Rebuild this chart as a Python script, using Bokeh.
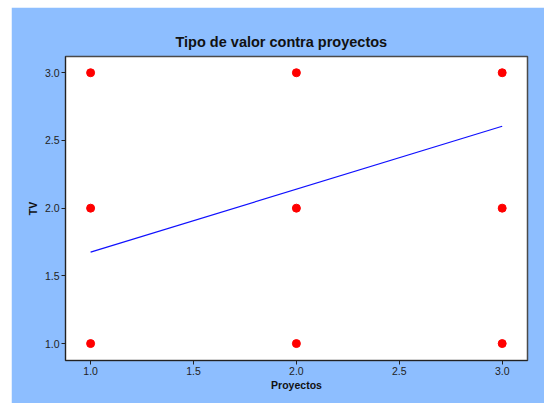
from bokeh.plotting import figure
from bokeh.embed import file_html
from bokeh.resources import INLINE
from bokeh.models import FixedTicker, NumeralTickFormatter, Range1d

# Data
proyectos = [1, 1, 1, 2, 2, 2, 3, 3, 3]
tv = [1, 2, 3, 1, 2, 3, 1, 2, 3]
fit_x = [1.0, 3.0]
fit_y = [1.675, 2.605]
ticks = [1.0, 1.5, 2.0, 2.5, 3.0]
title_text = "Tipo de valor contra proyectos"
x_label = "Proyectos"
y_label = "TV"

BLUE_BG = "#8DBEFF"
FONT = "Liberation Sans"

p = figure(width=533, height=396, output_backend="svg", toolbar_location=None,
           x_range=Range1d(0.878, 3.123), y_range=Range1d(0.875, 3.12),
           min_border_left=54, min_border_right=17, min_border_top=49,
           min_border_bottom=43)
p.margin = (7, 0, 0, 11)

p.title.text = title_text
p.title.align = "left"
p.title.offset = 110
p.title.standoff = 14
p.title.text_font = FONT
p.title.text_font_size = "14.5px"
p.title.text_font_style = "bold"
p.title.text_color = "#111111"

p.border_fill_color = BLUE_BG
p.background_fill_color = "white"
p.outline_line_color = "#4a4a4a"
p.outline_line_width = 1.5
p.xgrid.visible = False
p.ygrid.visible = False

for ax in (p.xaxis[0], p.yaxis[0]):
    ax.ticker = FixedTicker(ticks=ticks)
    ax.formatter = NumeralTickFormatter(format="0.0")
    ax.major_label_text_font = FONT
    ax.major_label_text_font_size = "10.5px"
    ax.major_label_text_color = "#222222"
    ax.axis_label_text_font = FONT
    ax.axis_label_text_font_size = "10.5px"
    ax.axis_label_text_font_style = "bold"
    ax.axis_label_text_color = "#111111"
    ax.axis_line_color = "#222222"
    ax.major_tick_line_color = "#222222"
    ax.major_tick_out = 4
    ax.major_tick_in = 0
    ax.minor_tick_line_color = None

p.xaxis.axis_label = x_label
p.yaxis.axis_label = y_label
p.xaxis.axis_label_standoff = 1
p.yaxis.axis_label_standoff = 3
p.xaxis.major_label_standoff = 2
p.yaxis.major_label_standoff = 2

p.line(fit_x, fit_y, line_color="#1010FF", line_width=1.2)
p.scatter(proyectos, tv, size=8, fill_color="#FF0000", line_color="#FF0000")

open("out.html", "w").write(file_html(p, INLINE))
